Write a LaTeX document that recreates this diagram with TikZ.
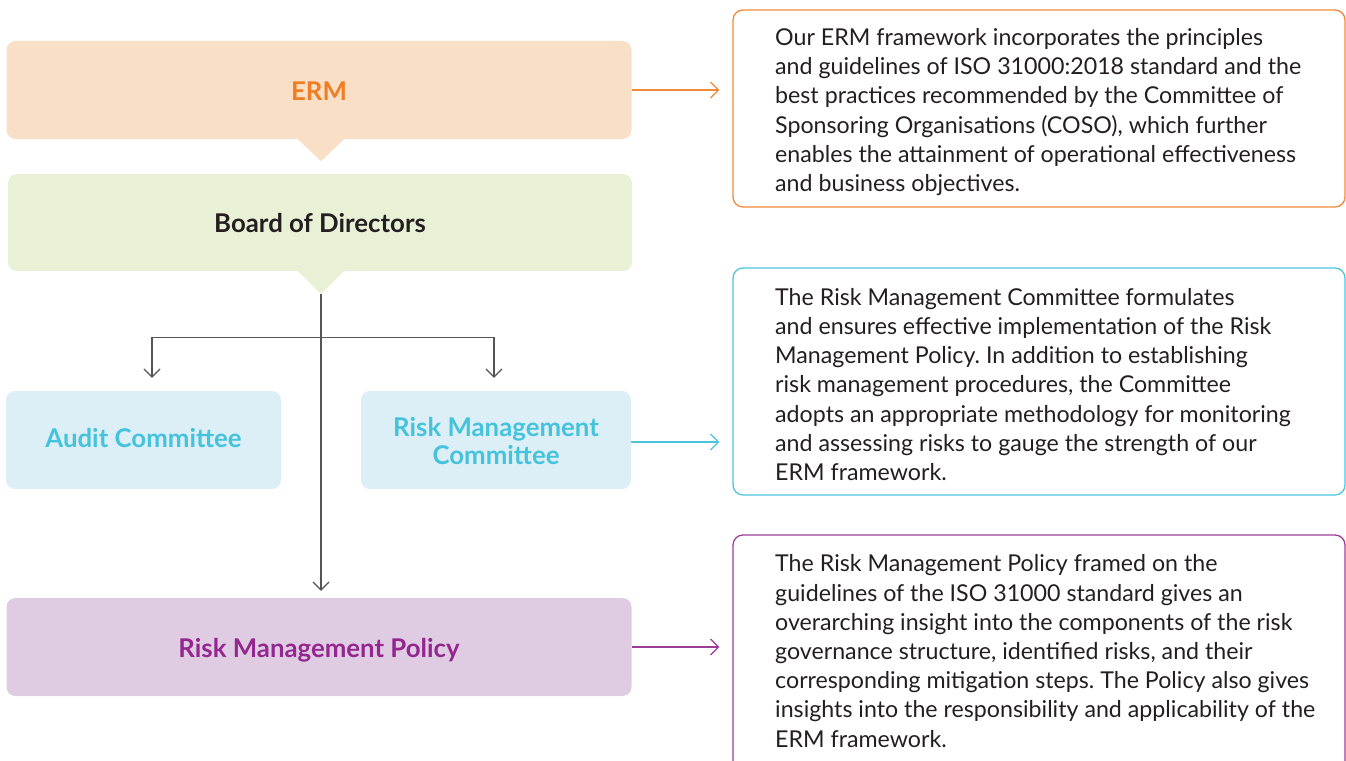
\documentclass[tikz,border=0pt]{standalone}
\usepackage{fontspec}
\setmainfont{Lato}
\usetikzlibrary{arrows.meta,calc}
\definecolor{ermfill}{HTML}{F8DFC6}
\definecolor{ermtext}{HTML}{EE7D23}
\definecolor{ermline}{HTML}{EF8A3A}
\definecolor{bodfill}{HTML}{E8F1D6}
\definecolor{bodtext}{HTML}{231F20}
\definecolor{comfill}{HTML}{DCEFF6}
\definecolor{comtext}{HTML}{45C3DC}
\definecolor{comline}{HTML}{4BC5DE}
\definecolor{polfill}{HTML}{DFCCE2}
\definecolor{poltext}{HTML}{93278F}
\definecolor{polline}{HTML}{9B3D97}
\definecolor{conncol}{HTML}{555555}
\definecolor{desctext}{HTML}{231F20}
\newcommand{\lbl}[2]{\raisebox{-#1pt}[0pt][0pt]{#2}}
\tikzset{
  box/.style={rectangle, rounded corners=9pt, minimum height=98pt, inner sep=0pt,
    align=center, font=\fontsize{25.8}{28.3}\selectfont\bfseries},
  descbox/.style={rectangle, rounded corners=10pt, line width=1.3pt, draw, inner sep=0pt},
  desctxt/.style={anchor=west, inner sep=0pt, align=left, text=desctext,
    font=\fontsize{23.2}{29.2}\selectfont},
  tip/.style={-{Straight Barb[length=8pt,width=16pt,line width=1.2pt]}},
  conn/.style={tip, draw=conncol, line width=1.2pt},
  side/.style={tip, line width=1.3pt},
}
\begin{document}
\frenchspacing
\begin{tikzpicture}[x=1pt,y=-1pt]
\useasboundingbox (0,0) rectangle (1346,760);
\clip (0,0) rectangle (1346,760);
% left boxes
\node[box, fill=ermfill, text=ermtext, minimum width=625pt] (erm) at (319,90) {\lbl{10.7}{ERM}};
\node[box, fill=bodfill, text=bodtext, minimum width=624pt, minimum height=97pt] (bod) at (320,222.5) {\lbl{9.5}{Board of Directors}};
\node[box, fill=comfill, text=comtext, minimum width=275pt] (audit) at (143.5,440) {\lbl{7.7}{Audit Committee}};
\node[box, fill=comfill, text=comtext, minimum width=270pt] (rmc) at (496,440) {\lbl{24.3}{\begin{tabular}[b]{@{}c@{}}Risk Management\\Committee\end{tabular}}};
\node[box, fill=polfill, text=poltext, minimum width=625pt] (rmp) at (319,647) {\lbl{10.7}{Risk Management Policy}};
% pointers
\fill[ermfill] ($(erm.south)+(-21,0)$) -- ($(erm.south)+(2,22)$) -- ($(erm.south)+(25,0)$) -- cycle;
\fill[bodfill] ($(bod.south)+(-22,0)$) -- ($(bod.south)+(1,23)$) -- ($(bod.south)+(24,0)$) -- cycle;
\coordinate (bt) at ($(bod.south)+(1,23)$);
\coordinate (split) at ($(bt)+(0,43)$);
% connectors
\draw[conn, shorten >=7pt] (bt) -- (bt |- rmp.north);
\draw[conn, shorten >=13pt] (split) -| ([xshift=8.5pt]audit.north);
\draw[conn, shorten >=13pt] (split) -| ([xshift=-2pt]rmc.north);
% description boxes
\node[descbox, draw=ermline, minimum width=612pt, minimum height=197pt] (ermd) at (1039,108.5) {};
\node[descbox, draw=comline, minimum width=612pt, minimum height=227pt] (rmcd) at (1039,381.5) {};
\node[descbox, draw=polline, minimum width=612pt, minimum height=236pt] (rmpd) at (1039,653) {};
\node[desctxt] (ermt) at (775,112) {Our ERM framework incorporates the principles\\and guidelines of ISO 31000:2018 standard and the\\best practices recommended by the Committee of\\Sponsoring Organisations (COSO), which further\\enables the attainment of operational effectiveness\\and business objectives.};
\node[desctxt] (rmct) at (775,384.5) {The Risk Management Committee formulates\\and ensures effective implementation of the Risk\\Management Policy. In addition to establishing\\risk management procedures, the Committee\\adopts an appropriate methodology for monitoring\\and assessing risks to gauge the strength of our\\ERM framework.};
\node[desctxt] (rmpt) at (775,651) {The Risk Management Policy framed on the\\guidelines of the ISO 31000 standard gives an\\overarching insight into the components of the risk\\governance structure, identified risks, and their\\corresponding mitigation steps. The Policy also gives\\insights into the responsibility and applicability of the\\ERM framework.};
% side arrows
\draw[side, draw=ermline, shorten >=13pt] (erm.east) -- (erm.east -| ermd.west);
\draw[side, draw=comline, shorten >=13pt] ([yshift=-2pt]rmc.east) -- ([yshift=-2pt]rmc.east -| rmcd.west);
\draw[side, draw=polline, shorten >=13pt] (rmp.east) -- (rmp.east -| rmpd.west);
\end{tikzpicture}
\end{document}
